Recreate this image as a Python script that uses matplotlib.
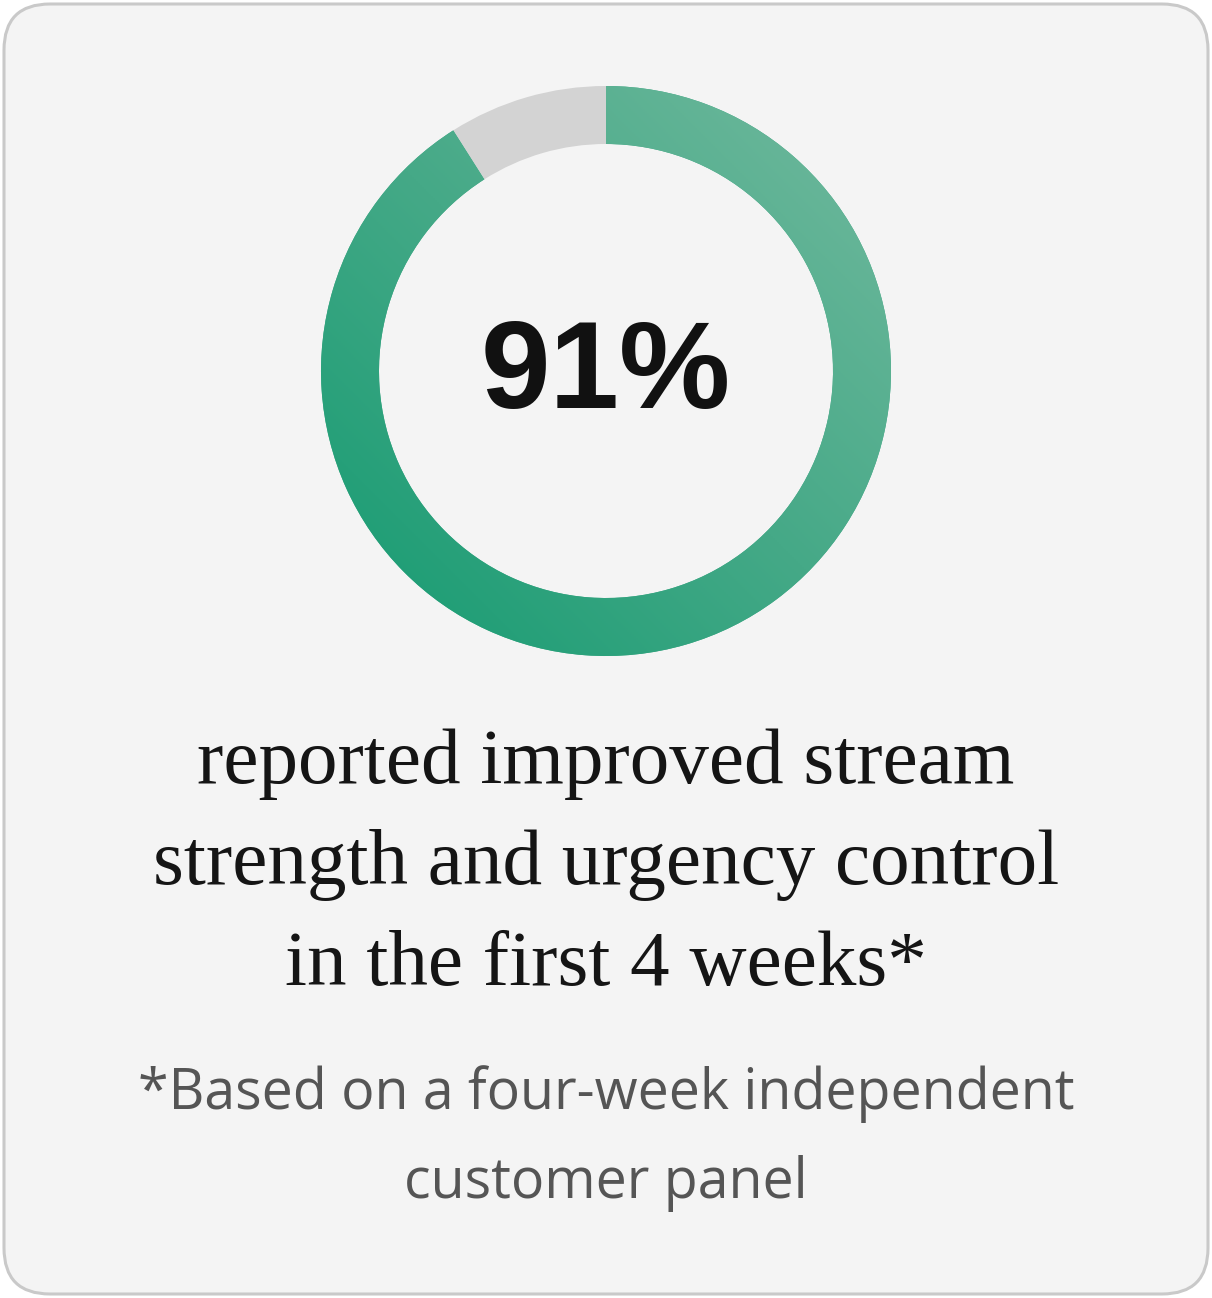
import numpy as np
import matplotlib
matplotlib.use("Agg")
import matplotlib.pyplot as plt
from matplotlib.patches import FancyBboxPatch
from matplotlib.colors import LinearSegmentedColormap
from matplotlib.transforms import IdentityTransform

# data
share_values = [91, 9]
share_labels = ["improved", "other"]
headline = "91%"
caption_lines = ["reported improved stream",
                 "strength and urgency control",
                 "in the first 4 weeks*"]
note_lines = ["*Based on a four-week independent",
              "customer panel"]

W, H = 1212, 1298
fig = plt.figure(figsize=(W / 100, H / 100), dpi=100)
fig.patch.set_facecolor("white")


def fy(y_px):
    # pixel row from top -> figure fraction
    return 1 - y_px / H


# card background (behind the axes)
card = FancyBboxPatch((4, 4), W - 8, H - 8,
                      boxstyle="round,pad=0,rounding_size=46",
                      transform=IdentityTransform(),
                      facecolor="#f4f4f4", edgecolor="#c9c9c9", linewidth=2.2,
                      zorder=-10)
fig.add_artist(card)

# donut
cx, cy, r_px = 606, 371, 285
half = 300
ax = fig.add_axes([(cx - half) / W, fy(cy + half), 2 * half / W, 2 * half / H])
ax.set_axis_off()
ax.patch.set_alpha(0)
lim = half / r_px

wedges, _ = ax.pie(share_values, startangle=90, counterclock=False,
                   colors=["#3fa886", "#d3d3d3"],
                   wedgeprops=dict(width=58 / r_px, linewidth=0))

# diagonal gradient on the green part (light top-right, dark bottom-left)
gx, gy = np.meshgrid(np.linspace(-1, 1, 300), np.linspace(1, -1, 300))
t = (-(gx) - gy) / 2.0
grad_cmap = LinearSegmentedColormap.from_list("g", ["#68b699", "#45a987", "#1f9e76"])
img = ax.imshow(t, cmap=grad_cmap, extent=[-1.02, 1.02, -1.02, 1.02],
                vmin=-0.75, vmax=0.75, aspect="auto", zorder=3)
img.set_clip_path(wedges[0])

ax.set_xlim(-lim, lim)
ax.set_ylim(-lim, lim)
ax.set_aspect("equal")

# centre number
fig.text(cx / W, fy(376), headline, ha="center", va="center",
         fontsize=90, fontweight="bold", family="Liberation Sans", color="#111111")

# caption
for i, line in enumerate(caption_lines):
    fig.text(cx / W, fy(764 + i * 101), line, ha="center", va="center",
             fontsize=57, family="Liberation Serif", color="#151515")

# footnote
for i, line in enumerate(note_lines):
    fig.text(cx / W, fy(1094 + i * 90), line, ha="center", va="center",
             fontsize=40, family="Open Sans", color="#555555")

fig.savefig("out.png", dpi=100)
